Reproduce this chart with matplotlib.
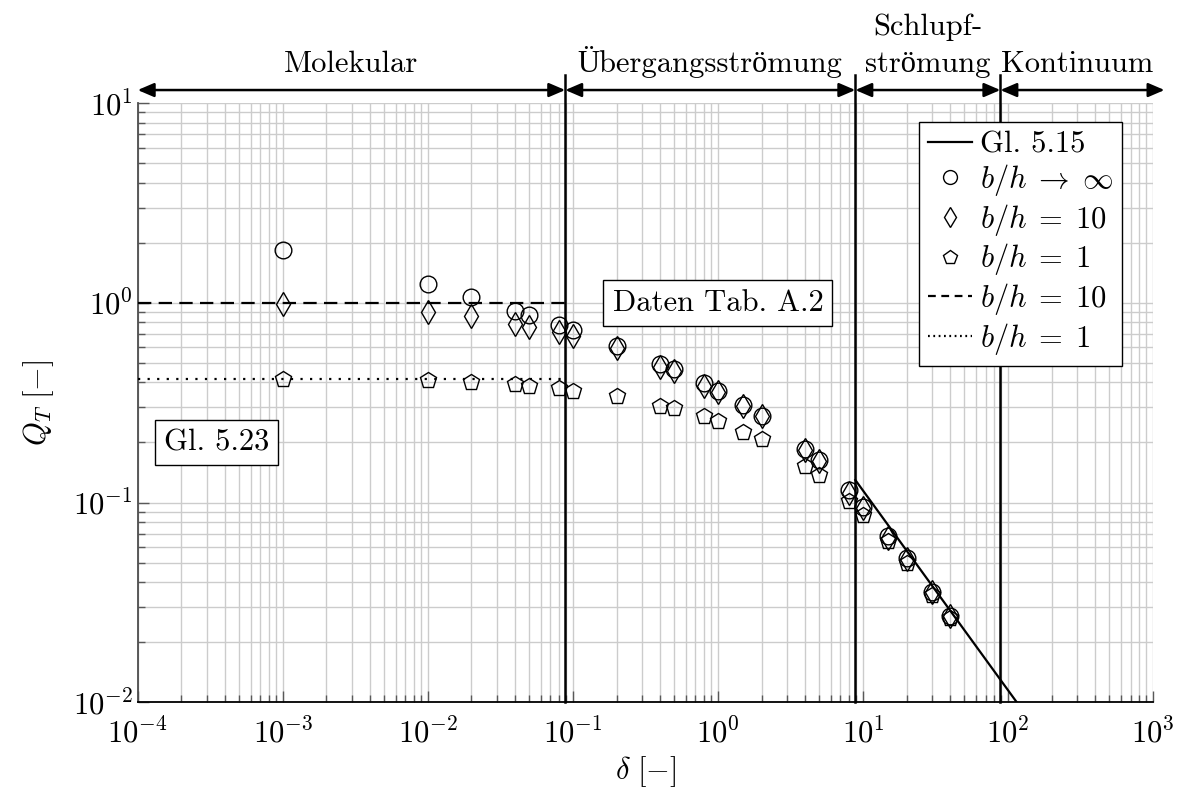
import numpy as np
import matplotlib
matplotlib.use("Agg")
import matplotlib.pyplot as plt
from matplotlib.lines import Line2D
import matplotlib.transforms as mtransforms

plt.rcParams['font.family'] = ['cmr10', 'Liberation Serif']
plt.rcParams['mathtext.fontset'] = 'cm'
plt.rcParams['axes.formatter.use_mathtext'] = True
plt.rcParams['axes.unicode_minus'] = False

FS = 22

# rarefaction parameter delta
delta = [1e-3, 1e-2, 2e-2, 4e-2, 5e-2, 8e-2, 0.1, 0.2, 0.4, 0.5, 0.8, 1.0,
         1.5, 2.0, 4.0, 5.0, 8.0, 10.0, 15.0, 20.0, 30.0, 40.0]

# thermal creep flow rate Q_T for three aspect ratios
q_inf = [1.85, 1.25, 1.07, 0.915, 0.87, 0.775, 0.733, 0.611, 0.495, 0.466, 0.396, 0.364,
         0.308, 0.272, 0.185, 0.164, 0.115, 0.0955, 0.068, 0.0527, 0.0358, 0.0272]
q_10 = [0.99, 0.905, 0.86, 0.785, 0.76, 0.718, 0.684, 0.593, 0.48, 0.458, 0.384, 0.356,
        0.305, 0.27, 0.183, 0.162, 0.112, 0.0937, 0.0665, 0.052, 0.0355, 0.027]
q_1 = [0.416, 0.411, 0.40, 0.393, 0.385, 0.374, 0.364, 0.342, 0.306, 0.297, 0.27, 0.255,
       0.227, 0.208, 0.153, 0.138, 0.102, 0.0868, 0.064, 0.0497, 0.0345, 0.0264]

# free-molecular limits (Gl. 5.23)
q_mol_10 = 1.0
q_mol_1 = 0.417

# slip-flow asymptote Q_T = c / delta (Gl. 5.15)
c_slip = 1.15

# regime boundaries: delta = sqrt(pi)/2 / Kn
kn_bounds = [10.0, 0.1, 0.01]
bounds = [np.sqrt(np.pi) / 2.0 / kn for kn in kn_bounds]
regimes = ['Molekular', 'Übergangsströmung', 'strömung', 'Kontinuum']

xlim = (1e-4, 1e3)
ylim = (1e-2, 1e1)

DASH = (0, (6, 3.3))
DOT = (0, (1, 3.3))

fig = plt.figure(figsize=(11.82, 7.94), dpi=100)
ax = fig.add_axes([0.1165, 0.1155, 0.859, 0.7545])
ax.set_xscale('log')
ax.set_yscale('log')
ax.set_xlim(*xlim)
ax.set_ylim(*ylim)

ax.grid(True, which='both', color='0.8', lw=1.0, zorder=0)
ax.set_axisbelow(True)
ax.tick_params(which='both', direction='in', labelsize=FS, color='0.35')
ax.tick_params(which='major', length=8, width=1)
ax.tick_params(which='minor', length=5, width=1)
ax.tick_params(axis='x', pad=11)
ax.set_xticks([10.0 ** k for k in range(-4, 4)])
ax.set_yticks([10.0 ** k for k in range(-2, 2)])
ax.spines['top'].set_visible(False)
ax.spines['right'].set_visible(False)
ax.spines['left'].set_color('0.3')
ax.spines['bottom'].set_color('black')
for s in ('left', 'bottom'):
    ax.spines[s].set_linewidth(1.3)

# molecular limits up to the first regime boundary
xm = [xlim[0], bounds[0]]
ax.plot(xm, [q_mol_10, q_mol_10], ls=DASH, color='black', lw=1.6, zorder=3)
ax.plot(xm, [q_mol_1, q_mol_1], ls=DOT, color='black', lw=1.6, zorder=3)

# slip-flow asymptote
xs = np.array([bounds[1], 300.0])
ax.plot(xs, c_slip / xs, color='black', lw=1.6, zorder=3)

mk = dict(ls='none', mfc='none', mec='black', mew=1.0, zorder=4)
ax.plot(delta, q_inf, marker='o', ms=12, **mk)
ax.plot(delta, q_10, marker='d', ms=12, **mk)
ax.plot(delta, q_1, marker='p', ms=12, **mk)

# regime boundaries reaching above the plot
for b in bounds:
    ax.axvline(b, ymin=0, ymax=1.047, color='black', lw=1.8, clip_on=False, zorder=5)

trans = mtransforms.blended_transform_factory(ax.transData, ax.transAxes)
edges = [xlim[0], bounds[0], bounds[1], bounds[2], 1.2e3]
y_arrow = 1.022
for i in range(4):
    ax.annotate('', xy=(edges[i], y_arrow), xycoords=trans,
                xytext=(edges[i + 1], y_arrow), textcoords=trans,
                arrowprops=dict(arrowstyle='<|-|>,head_length=0.7,head_width=0.3',
                                color='black', lw=1.8, shrinkA=0, shrinkB=0,
                                mutation_scale=14),
                annotation_clip=False)
    xc = np.sqrt(edges[i] * min(edges[i + 1], xlim[1]))
    ax.text(xc, 1.052, regimes[i], transform=trans, ha='center', va='baseline',
            fontsize=FS)
xc = np.sqrt(bounds[1] * bounds[2])
ax.text(xc, 1.114, 'Schlupf-', transform=trans, ha='center', va='baseline', fontsize=FS)

box = dict(boxstyle='square,pad=0.3', fc='white', ec='black', lw=1.0)
ax.text(3.5e-4, 0.2, 'Gl. 5.23', ha='center', va='center', fontsize=FS, bbox=box, zorder=6)
ax.text(1.0, 1.0, 'Daten Tab. A.2', ha='center', va='center', fontsize=FS, bbox=box, zorder=6)

handles = [
    Line2D([], [], color='black', lw=1.6),
    Line2D([], [], ls='none', marker='o', ms=10, mfc='none', mec='black', mew=1.0),
    Line2D([], [], ls='none', marker='d', ms=10, mfc='none', mec='black', mew=1.0),
    Line2D([], [], ls='none', marker='p', ms=10, mfc='none', mec='black', mew=1.0),
    Line2D([], [], color='black', lw=1.6, ls=(0, (3.5, 2.5))),
    Line2D([], [], color='black', lw=1.6, ls=(0, (0.8, 1.6))),
]
labels = ['Gl. 5.15', r'$b/h\;\rightarrow\;\infty$', r'$b/h\;=\;10$', r'$b/h\;=\;1$',
          r'$b/h\;=\;10$', r'$b/h\;=\;1$']
leg = ax.legend(handles, labels, loc='upper right', bbox_to_anchor=(0.9695, 0.969),
                borderaxespad=0, fontsize=FS, frameon=True, fancybox=False,
                edgecolor='black', framealpha=1, handlelength=1.45,
                handletextpad=0.25, labelspacing=0.12, borderpad=0.3)
leg.get_frame().set_linewidth(1.0)
leg.set_zorder(7)

ax.set_xlabel(r'$\delta\ [-]$', fontsize=FS, labelpad=4)
ax.set_ylabel(r'$Q_T\ [-]$', fontsize=FS, labelpad=12)

fig.savefig('out.png', dpi=100)
